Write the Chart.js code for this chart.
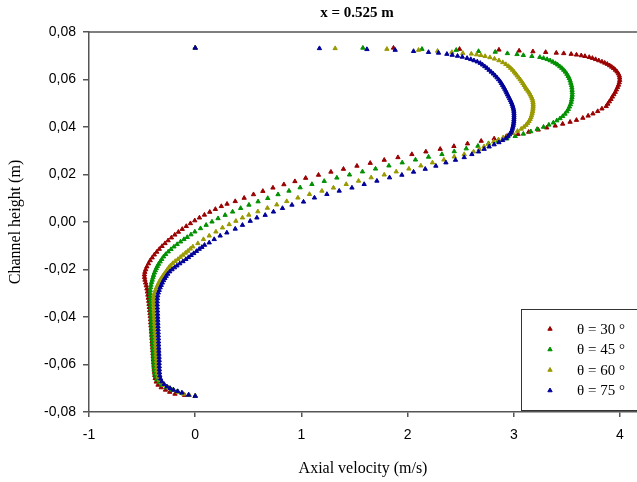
<!DOCTYPE html>
<html>
<head>
<meta charset="utf-8">
<script src="https://cdn.jsdelivr.net/npm/chart.js@4.4.1/dist/chart.umd.min.js"></script>
<style>
  html, body { margin: 0; padding: 0; background: #fff; }
</style>
</head>
<body>
<canvas id="profileChart" width="637" height="482"></canvas>
<script>
// Tiêu đề và nhãn trục
const plotTitle = 'x = 0.525 m';
const xAxisTitle = 'Axial velocity (m/s)';
const yAxisTitle = 'Channel height (m)';
const xTicks = [-1, 0, 1, 2, 3, 4];
const yTicks = [-0.08, -0.06, -0.04, -0.02, 0, 0.02, 0.04, 0.06, 0.08];

const seriesLabels = ['θ = 30 °', 'θ = 45 °', 'θ = 60 °', 'θ = 75 °'];
const seriesColors = ['#990000', '#009000', '#999900', '#000099'];

// θ = 30°
const height30 = [-0.0733, -0.0729, -0.0724, -0.0716, -0.0707, -0.0697, -0.0686, -0.0673, -0.0658, -0.0645,
  -0.0632, -0.0619, -0.0606, -0.0593, -0.0580, -0.0567, -0.0554, -0.0541, -0.0528, -0.0515,
  -0.0502, -0.0489, -0.0476, -0.0463, -0.0450, -0.0437, -0.0424, -0.0411, -0.0398, -0.0385,
  -0.0372, -0.0359, -0.0346, -0.0333, -0.0320, -0.0307, -0.0294, -0.0281, -0.0268, -0.0256,
  -0.0244, -0.0233, -0.0222, -0.0211, -0.0200, -0.0188, -0.0175, -0.0162, -0.0150, -0.0138,
  -0.0126, -0.0114, -0.0102, -0.0090, -0.0078, -0.0066, -0.0054, -0.0042, -0.0030, -0.0018,
  -0.0006, 0.0006, 0.0018, 0.0030, 0.0042, 0.0054, 0.0066, 0.0076,
  0.0087, 0.0101, 0.0116, 0.0130, 0.0144, 0.0158, 0.0171, 0.0185, 0.0198, 0.0211,
  0.0223, 0.0236, 0.0248, 0.0261, 0.0272, 0.0285, 0.0296, 0.0307, 0.0319, 0.0330,
  0.0341, 0.0351, 0.0361, 0.0370, 0.0379, 0.0388, 0.0397, 0.0405, 0.0413, 0.0421,
  0.0429, 0.0438, 0.0447, 0.0456, 0.0466, 0.0477, 0.0487,
  0.0497, 0.0507, 0.0517, 0.0527, 0.0537, 0.0547, 0.0557, 0.0567, 0.0577, 0.0587,
  0.0597, 0.0607, 0.0616, 0.0625, 0.0633, 0.0640, 0.0647, 0.0653, 0.0659, 0.0665,
  0.0670, 0.0675, 0.0680, 0.0685, 0.0690, 0.0694, 0.0698, 0.0701, 0.0704, 0.0707,
  0.0710, 0.0712, 0.0715, 0.0718, 0.0721, 0.0725, 0.0728, 0.0733, 0.0733];
const velocity30 = [0, -0.10, -0.19, -0.24, -0.28, -0.32, -0.35, -0.367, -0.377, -0.381,
  -0.384, -0.387, -0.389, -0.391, -0.394, -0.396, -0.398, -0.400, -0.402, -0.404,
  -0.406, -0.408, -0.410, -0.412, -0.414, -0.417, -0.419, -0.421, -0.424, -0.426,
  -0.429, -0.432, -0.435, -0.438, -0.442, -0.446, -0.450, -0.455, -0.461, -0.467,
  -0.473, -0.477, -0.478, -0.474, -0.466, -0.455, -0.440, -0.424, -0.405, -0.385,
  -0.362, -0.338, -0.312, -0.284, -0.255, -0.224, -0.192, -0.158, -0.122, -0.084,
  -0.045, -0.004, 0.040, 0.087, 0.137, 0.190, 0.246, 0.300,
  0.377, 0.461, 0.549, 0.637, 0.732, 0.835, 0.939, 1.040, 1.161, 1.278,
  1.396, 1.523, 1.648, 1.780, 1.909, 2.040, 2.172, 2.307, 2.436, 2.564,
  2.693, 2.815, 2.93, 3.04, 3.14, 3.23, 3.31, 3.39, 3.46, 3.53,
  3.59, 3.65, 3.70, 3.745, 3.79, 3.83, 3.87,
  3.885, 3.90, 3.915, 3.928, 3.942, 3.955, 3.966, 3.977, 3.986, 3.993,
  3.997, 3.997, 3.993, 3.984, 3.972, 3.957, 3.940, 3.922, 3.902, 3.880,
  3.856, 3.830, 3.800, 3.770, 3.740, 3.710, 3.670, 3.635, 3.590, 3.540,
  3.470, 3.400, 3.300, 3.180, 3.050, 2.860, 2.489, 1.867, 0];

// θ = 45°
const height45 = [-0.0733, -0.0729, -0.0721, -0.0714, -0.0707, -0.0697, -0.0686, -0.0675, -0.0664, -0.0651,
  -0.0638, -0.0625, -0.0612, -0.0599, -0.0586, -0.0573, -0.0560, -0.0547, -0.0534, -0.0521,
  -0.0508, -0.0495, -0.0482, -0.0469, -0.0456, -0.0443, -0.0430, -0.0417, -0.0404, -0.0391,
  -0.0378, -0.0365, -0.0352, -0.0339, -0.0326, -0.0313, -0.0300, -0.0288, -0.0276, -0.0265,
  -0.0254, -0.0244, -0.0234, -0.0224, -0.0214, -0.0204, -0.0195, -0.0186, -0.0177, -0.0167,
  -0.0157, -0.0146, -0.0136, -0.0125, -0.0115, -0.0104, -0.0094, -0.0083, -0.0073, -0.0064,
  -0.0053, -0.0041, -0.0027, -0.0013, 0.0001, 0.0015, 0.0029, 0.0043, 0.0058, 0.0072,
  0.0086, 0.0100, 0.0116, 0.0131, 0.0145, 0.0159, 0.0172, 0.0186, 0.0199, 0.0212,
  0.0224, 0.0237, 0.0250, 0.0262, 0.0274, 0.0285, 0.0297, 0.0309, 0.0320, 0.0331,
  0.0341, 0.0351, 0.0361, 0.0371, 0.0381, 0.0391, 0.0400, 0.0409, 0.0418, 0.0427,
  0.0436, 0.0445, 0.0455, 0.0465, 0.0475, 0.0485, 0.0495, 0.0505, 0.0515, 0.0525,
  0.0535, 0.0545, 0.0555, 0.0565, 0.0575, 0.0585, 0.0595, 0.0605, 0.0614, 0.0623,
  0.0632, 0.0640, 0.0648, 0.0655, 0.0662, 0.0668, 0.0674, 0.0680, 0.0685, 0.0690,
  0.0694, 0.0698, 0.0702, 0.0706, 0.0710, 0.0716, 0.0719, 0.0724, 0.0728, 0.0733, 0.0733];
const velocity45 = [0, -0.06, -0.125, -0.17, -0.219, -0.27, -0.314, -0.34, -0.361, -0.373,
  -0.380, -0.385, -0.387, -0.389, -0.391, -0.393, -0.395, -0.396, -0.398, -0.400,
  -0.402, -0.403, -0.405, -0.406, -0.408, -0.409, -0.411, -0.412, -0.414, -0.415,
  -0.417, -0.418, -0.420, -0.421, -0.423, -0.424, -0.424, -0.423, -0.420, -0.416,
  -0.411, -0.405, -0.398, -0.392, -0.384, -0.375, -0.366, -0.356, -0.345, -0.330,
  -0.315, -0.298, -0.278, -0.254, -0.228, -0.200, -0.170, -0.138, -0.106, -0.075,
  -0.040, -0.003, 0.050, 0.103, 0.158, 0.215, 0.282, 0.352, 0.428, 0.506,
  0.592, 0.683, 0.780, 0.883, 0.988, 1.099, 1.215, 1.334, 1.453, 1.575,
  1.698, 1.824, 1.949, 2.074, 2.197, 2.323, 2.439, 2.552, 2.662, 2.762,
  2.850, 2.935, 3.013, 3.090, 3.160, 3.220, 3.280, 3.330, 3.372, 3.405,
  3.435, 3.460, 3.482, 3.500, 3.513, 3.524, 3.533, 3.540, 3.545, 3.548,
  3.550, 3.550, 3.549, 3.547, 3.543, 3.537, 3.530, 3.522, 3.512, 3.500,
  3.486, 3.470, 3.452, 3.433, 3.413, 3.392, 3.368, 3.342, 3.314, 3.280,
  3.245, 3.170, 3.090, 3.030, 2.940, 2.825, 2.668, 2.458, 2.135, 1.579, 0];

// θ = 60°
const height60 = [-0.0733, -0.0729, -0.0724, -0.0716, -0.0707, -0.0697, -0.0686, -0.0676, -0.0665, -0.0652,
  -0.0638, -0.0625, -0.0612, -0.0599, -0.0586, -0.0573, -0.0560, -0.0547, -0.0534, -0.0521,
  -0.0508, -0.0495, -0.0482, -0.0469, -0.0456, -0.0443, -0.0430, -0.0417, -0.0404, -0.0391,
  -0.0378, -0.0365, -0.0352, -0.0340, -0.0328, -0.0317, -0.0306, -0.0296, -0.0286, -0.0276,
  -0.0267, -0.0258, -0.0250, -0.0241, -0.0233, -0.0225, -0.0217, -0.0209, -0.0200, -0.0191,
  -0.0183, -0.0174, -0.0165, -0.0157, -0.0148, -0.0139, -0.0130, -0.0122, -0.0113, -0.0104,
  -0.0090, -0.0073, -0.0058, -0.0041, -0.0024, -0.0010, 0.0004, 0.0018, 0.0030, 0.0044,
  0.0059, 0.0073, 0.0087, 0.0102, 0.0117, 0.0131, 0.0144, 0.0159, 0.0173, 0.0187,
  0.0199, 0.0212, 0.0224, 0.0237, 0.0250, 0.0262, 0.0275, 0.0285, 0.0296, 0.0307,
  0.0318, 0.0328, 0.0338, 0.0347, 0.0356, 0.0365, 0.0374, 0.0383, 0.0392, 0.0400,
  0.0408, 0.0416, 0.0424, 0.0432, 0.0440, 0.0448, 0.0456, 0.0464, 0.0472, 0.0480,
  0.0488, 0.0496, 0.0504, 0.0512, 0.0520, 0.0528, 0.0536, 0.0544, 0.0552, 0.0560,
  0.0568, 0.0576, 0.0584, 0.0592, 0.0600, 0.0608, 0.0616, 0.0624, 0.0632, 0.0640,
  0.0648, 0.0656, 0.0664, 0.0672, 0.0680, 0.0687, 0.0693, 0.0698, 0.0702, 0.0705,
  0.0708, 0.0711, 0.0715, 0.0720, 0.0724, 0.0728, 0.0731, 0.0733];
const velocity60 = [0, -0.055, -0.110, -0.16, -0.204, -0.25, -0.298, -0.32, -0.336, -0.350,
  -0.357, -0.361, -0.363, -0.364, -0.366, -0.367, -0.369, -0.370, -0.372, -0.373,
  -0.375, -0.376, -0.377, -0.379, -0.380, -0.381, -0.383, -0.384, -0.386, -0.387,
  -0.389, -0.390, -0.391, -0.392, -0.392, -0.390, -0.386, -0.380, -0.373, -0.364,
  -0.355, -0.345, -0.336, -0.325, -0.313, -0.301, -0.289, -0.276, -0.262, -0.248,
  -0.232, -0.212, -0.188, -0.163, -0.140, -0.116, -0.092, -0.069, -0.046, -0.022,
  0.025, 0.078, 0.132, 0.195, 0.257, 0.320, 0.383, 0.445, 0.505, 0.590,
  0.680, 0.768, 0.862, 0.967, 1.076, 1.193, 1.302, 1.422, 1.538, 1.657,
  1.780, 1.893, 2.012, 2.125, 2.234, 2.342, 2.439, 2.533, 2.621, 2.675,
  2.720, 2.760, 2.810, 2.856, 2.900, 2.945, 2.990, 3.035, 3.070, 3.095,
  3.115, 3.130, 3.143, 3.153, 3.161, 3.167, 3.172, 3.176, 3.179, 3.181,
  3.182, 3.182, 3.181, 3.178, 3.172, 3.164, 3.155, 3.145, 3.133, 3.118,
  3.108, 3.097, 3.085, 3.073, 3.060, 3.046, 3.032, 3.018, 3.004, 2.988,
  2.970, 2.950, 2.925, 2.896, 2.860, 2.818, 2.775, 2.730, 2.690, 2.650,
  2.600, 2.520, 2.417, 2.282, 2.103, 1.805, 1.318, 0];

// θ = 75°
const height75 = [-0.0733, -0.0728, -0.0719, -0.0713, -0.0707, -0.0700, -0.0693, -0.0683, -0.0672, -0.0660,
  -0.0647, -0.0634, -0.0621, -0.0608, -0.0595, -0.0582, -0.0569, -0.0556, -0.0543, -0.0530,
  -0.0517, -0.0504, -0.0491, -0.0478, -0.0465, -0.0452, -0.0439, -0.0426, -0.0413, -0.0400,
  -0.0387, -0.0374, -0.0361, -0.0348, -0.0335, -0.0322, -0.0310, -0.0298, -0.0287, -0.0276,
  -0.0266, -0.0256, -0.0246, -0.0237, -0.0228, -0.0219, -0.0209, -0.0200, -0.0192, -0.0184,
  -0.0175, -0.0166, -0.0157, -0.0149, -0.0140, -0.0132, -0.0123, -0.0114, -0.0106, -0.0097,
  -0.0087, -0.0073, -0.0058, -0.0045, -0.0029, -0.0013, 0.0004, 0.0018, 0.0029, 0.0043,
  0.0058, 0.0072, 0.0085, 0.0102, 0.0117, 0.0131, 0.0144, 0.0159, 0.0173, 0.0187,
  0.0198, 0.0211, 0.0223, 0.0236, 0.0250, 0.0261, 0.0272, 0.0285, 0.0296, 0.0307,
  0.0317, 0.0326, 0.0335, 0.0344, 0.0352, 0.0360, 0.0368, 0.0376, 0.0384, 0.0392,
  0.0400, 0.0408, 0.0416, 0.0424, 0.0432, 0.0440, 0.0448, 0.0456, 0.0464, 0.0472,
  0.0480, 0.0488, 0.0496, 0.0504, 0.0512, 0.0520, 0.0528, 0.0536, 0.0544, 0.0552,
  0.0560, 0.0568, 0.0576, 0.0584, 0.0592, 0.0600, 0.0608, 0.0616, 0.0624, 0.0632,
  0.0640, 0.0648, 0.0655, 0.0662, 0.0669, 0.0675, 0.0680, 0.0685, 0.0690, 0.0695,
  0.0699, 0.0703, 0.0707, 0.0712, 0.0715, 0.0719, 0.0724, 0.0727, 0.0731, 0.0733];
const velocity75 = [0, -0.063, -0.125, -0.165, -0.204, -0.236, -0.266, -0.292, -0.314, -0.326,
  -0.333, -0.336, -0.337, -0.338, -0.339, -0.339, -0.340, -0.341, -0.342, -0.343,
  -0.344, -0.345, -0.346, -0.347, -0.348, -0.349, -0.350, -0.351, -0.352, -0.353,
  -0.354, -0.355, -0.356, -0.357, -0.357, -0.356, -0.353, -0.347, -0.339, -0.330,
  -0.320, -0.310, -0.298, -0.286, -0.273, -0.259, -0.240, -0.218, -0.195, -0.172,
  -0.145, -0.115, -0.088, -0.063, -0.038, -0.014, 0.012, 0.038, 0.063, 0.088,
  0.132, 0.179, 0.235, 0.298, 0.377, 0.445, 0.518, 0.581, 0.659, 0.737,
  0.822, 0.911, 1.020, 1.123, 1.240, 1.356, 1.476, 1.591, 1.711, 1.830,
  1.946, 2.056, 2.166, 2.266, 2.361, 2.451, 2.533, 2.605, 2.668, 2.721,
  2.768, 2.815, 2.860, 2.895, 2.925, 2.945, 2.960, 2.971, 2.980, 2.986,
  2.991, 2.995, 2.998, 3.000, 3.001, 3.002, 3.002, 3.002, 3.001, 2.999,
  2.995, 2.990, 2.984, 2.977, 2.969, 2.960, 2.951, 2.942, 2.933, 2.925,
  2.915, 2.905, 2.894, 2.883, 2.872, 2.857, 2.842, 2.825, 2.807, 2.787,
  2.767, 2.747, 2.727, 2.706, 2.684, 2.656, 2.625, 2.595, 2.560, 2.515,
  2.470, 2.420, 2.370, 2.291, 2.197, 2.056, 1.883, 1.617, 1.170, 0];

const heights = [height30, height45, height60, height75];
const velocities = [velocity30, velocity45, velocity60, velocity75];

// Ghép dữ liệu thành cặp (x, y)
function toPoints(vel, hgt) {
    return vel.map((v, i) => ({ x: v, y: hgt[i] }));
}

// Khung phía trên, tiêu đề và chú giải
const decorPlugin = {
    id: 'decor',
    afterDraw(chart) {
        const { ctx, chartArea: area } = chart;
        ctx.save();
        ctx.strokeStyle = '#555';
        ctx.lineWidth = 1.5;
        ctx.beginPath();
        ctx.moveTo(area.left, area.top);
        ctx.lineTo(chart.width, area.top);
        ctx.stroke();

        ctx.fillStyle = '#000';
        ctx.font = 'bold 15px "Liberation Serif"';
        ctx.textAlign = 'center';
        ctx.textBaseline = 'middle';
        ctx.fillText(plotTitle, 357, 13);

        // chú giải
        ctx.fillStyle = '#fff';
        ctx.fillRect(521, 309, 130, 101);
        ctx.strokeStyle = '#333';
        ctx.lineWidth = 1;
        ctx.strokeRect(521.5, 309.5, 130, 101);
        ctx.font = '15px "Liberation Serif"';
        ctx.textAlign = 'left';
        chart.data.datasets.forEach((ds, i) => {
            const rowY = 329 + i * 20.5;
            ctx.fillStyle = ds.backgroundColor;
            ctx.strokeStyle = ds.borderColor;
            Chart.helpers.drawPoint(ctx, { pointStyle: 'triangle', radius: 2.5, borderWidth: 1, rotation: 0 }, 550, rowY);
            ctx.fillStyle = '#000';
            ctx.fillText(ds.label, 577, rowY + 1);
        });
        ctx.restore();
    }
};

const ctx = document.getElementById('profileChart').getContext('2d');

const profileChart = new Chart(ctx, {
    type: 'scatter',
    data: {
        datasets: seriesLabels.map((label, i) => ({
            label: label,
            data: toPoints(velocities[i], heights[i]),
            backgroundColor: seriesColors[i],
            borderColor: seriesColors[i],
            pointStyle: 'triangle',
            pointRadius: 2.5,
            pointBorderWidth: 1,
            order: 4 - i
        }))
    },
    options: {
        responsive: false,
        animation: false,
        layout: { autoPadding: false, padding: { top: 32, left: 0, right: 0, bottom: 0 } },
        plugins: {
            legend: { display: false },
            tooltip: { enabled: false }
        },
        scales: {
            x: {
                type: 'linear',
                min: -1,
                max: 4.16,
                afterBuildTicks: scale => { scale.ticks = xTicks.map(v => ({ value: v })); },
                afterFit: scale => {
                    scale.height = 70;
                    scale.paddingRight = 0;
                    scale.paddingLeft = 0;
                },
                grid: { drawOnChartArea: false, drawTicks: true, tickLength: 5, color: '#555', lineWidth: 1.5 },
                border: { color: '#555', width: 1.5 },
                ticks: {
                    padding: 10,
                    color: '#000',
                    font: { family: '"Liberation Sans"', size: 14 },
                    callback: v => String(v)
                },
                title: {
                    display: true,
                    text: xAxisTitle,
                    color: '#000',
                    font: { family: '"Liberation Serif"', size: 16 },
                    padding: { top: 0, bottom: 4 }
                }
            },
            y: {
                type: 'linear',
                min: -0.08,
                max: 0.08,
                afterBuildTicks: scale => { scale.ticks = yTicks.map(v => ({ value: v })); },
                afterFit: scale => {
                    scale.width = 89;
                    scale.paddingTop = 0;
                    scale.paddingBottom = 0;
                },
                grid: { drawOnChartArea: false, drawTicks: true, tickLength: 6, color: '#555', lineWidth: 1.5 },
                border: { color: '#555', width: 1.5 },
                ticks: {
                    padding: 7,
                    color: '#000',
                    font: { family: '"Liberation Sans"', size: 14 },
                    callback: v => v.toFixed(2).replace('.', ',')
                },
                title: {
                    display: true,
                    text: yAxisTitle,
                    color: '#000',
                    font: { family: '"Liberation Serif"', size: 16 },
                    padding: { top: 6, bottom: 0 }
                }
            }
        }
    },
    plugins: [decorPlugin]
});
</script>
</body>
</html>
